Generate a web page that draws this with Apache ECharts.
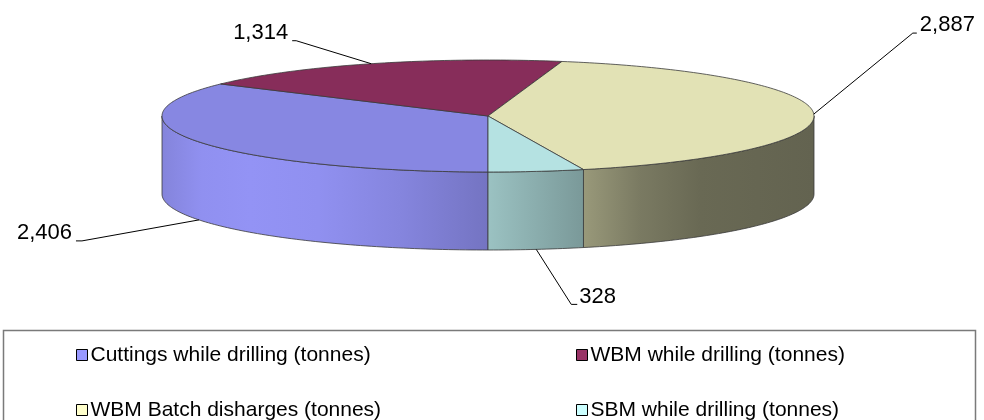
<!DOCTYPE html>
<html>
<head>
<meta charset="utf-8">
<script src="https://cdn.jsdelivr.net/npm/echarts@6/dist/echarts.min.js"></script>
<style>
  html, body { margin: 0; padding: 0; background: #fff; }
  #chart { width: 984px; height: 420px; }
</style>
</head>
<body>
<div id="chart"></div>
<script>
// Discharge quantities by stream (tonnes)
const categories = [
  'Cuttings while drilling (tonnes)',
  'WBM while drilling (tonnes)',
  'WBM Batch disharges (tonnes)',
  'SBM while drilling (tonnes)'
];
const tonnes = [2406, 1314, 2887, 328];
const baseColors = ['#9999FF', '#993366', '#FFFFCC', '#CCFFFF'];

const total = tonnes.reduce((a, b) => a + b, 0);
const starts = tonnes.map((_, i) => tonnes.slice(0, i).reduce((a, b) => a + b, 0));

// 3-D look of the pie: vertical squash of the disc, wall height, shading
const TILT = 56 / 326;
const DEPTH = 78;
const TOP_SHADE = 0.885;
// lighting across the wall, from the left rim (0) to the right rim (1)
const SIDE_LIGHT = [
  [0.00, 0.86], [0.06, 0.94], [0.135, 0.96], [0.24, 0.94], [0.365, 0.87],
  [0.50, 0.76], [0.646, 0.60], [0.733, 0.48], [0.825, 0.41], [1.00, 0.39]
];
// label placement around each slice's anchor point
const LABEL_LAYOUT = [
  { text: [-127, 13], align: 'right', line: [[-117, 21], [-123, 21]] },
  { text: [-83, -31], align: 'right', line: [[-75, -23], [-79, -23]] },
  { text: [106, -89], align: 'left',  line: [[99, -81], [103, -81]] },
  { text: [43, 48],   align: 'left',  line: [[35, 55], [41, 55]] }
];
const FONT = '"Liberation Sans", Arial, sans-serif';

function shade(hex, f) {
  const n = parseInt(hex.slice(1), 16);
  const r = Math.min(255, Math.round(((n >> 16) & 255) * f));
  const g = Math.min(255, Math.round(((n >> 8) & 255) * f));
  const b = Math.min(255, Math.round((n & 255) * f));
  return 'rgb(' + r + ',' + g + ',' + b + ')';
}

function makeRender(i) {
  return function (params, api) {
    const s = api.value(1), e = api.value(2);
    const c = api.coord([0, 0]);
    const cx = c[0], cy = c[1];
    const edge = api.coord([1, total * 0.25]);
    const R = Math.abs(edge[0] - cx) || Math.hypot(edge[0] - cx, edge[1] - cy);

    const pt = (v, dz) => {
      const p = api.coord([1, v]);
      return [p[0], cy + (p[1] - cy) * TILT + dz];
    };
    const isFront = (v) => api.coord([1, v])[1] > cy + 1e-6;
    const arc = (a, b, dz) => {
      const n = Math.max(2, Math.ceil((b - a) / total * 360));
      const pts = [];
      for (let j = 0; j <= n; j++) pts.push(pt(a + (b - a) * j / n, dz));
      return pts;
    };

    const color = baseColors[i];
    const border = { stroke: '#3a3a3a', lineWidth: 0.8 };
    const children = [];

    // walls on the visible (front) half of the disc
    const sideFill = {
      type: 'linear', x: cx - R, y: 0, x2: cx + R, y2: 0, global: true,
      colorStops: SIDE_LIGHT.map(([o, f]) => ({ offset: o, color: shade(color, f) }))
    };
    [[0, total * 0.25], [total * 0.75, total]].forEach(([fa, fb]) => {
      const a = Math.max(s, fa), b = Math.min(e, fb);
      if (b - a <= 0) return;
      const pts = arc(a, b, 0).concat(arc(a, b, DEPTH).reverse());
      children.push({
        type: 'polygon', shape: { points: pts }, z2: 1,
        style: Object.assign({ fill: sideFill }, border)
      });
    });

    // top face
    children.push({
      type: 'polygon', shape: { points: [[cx, cy]].concat(arc(s, e, 0)) }, z2: 2,
      style: Object.assign({ fill: shade(color, TOP_SHADE) }, border)
    });

    // value label with leader line
    const mid = (s + e) / 2;
    const anchor = pt(mid, isFront(mid) ? DEPTH : 0);
    const lay = LABEL_LAYOUT[i];
    children.push({
      type: 'polyline', z2: 5,
      shape: { points: [anchor].concat(lay.line.map(d => [anchor[0] + d[0], anchor[1] + d[1]])) },
      style: { stroke: '#000', lineWidth: 1, fill: null }
    });
    children.push({
      type: 'text', z2: 5,
      x: anchor[0] + lay.text[0], y: anchor[1] + lay.text[1],
      style: {
        text: (e - s).toLocaleString('en-US'),
        fontSize: 22, fontFamily: FONT, fill: '#000',
        align: lay.align, verticalAlign: 'middle'
      }
    });

    return { type: 'group', children: children };
  };
}

const legendBase = {
  orient: 'vertical', top: 340, height: 120, width: 420, padding: 0, itemGap: 25,
  itemWidth: 11, itemHeight: 11, icon: 'rect', selectedMode: false,
  itemStyle: { borderColor: '#000', borderWidth: 1 },
  textStyle: { fontSize: 21, fontFamily: FONT, color: '#000', lineHeight: 30, padding: [0, 0, 0, -2] }
};

const chart = echarts.init(document.getElementById('chart'), null, { renderer: 'canvas' });
chart.setOption({
  animation: false,
  backgroundColor: '#fff',
  polar: { center: [488, 116], radius: 326 },
  angleAxis: {
    type: 'value', min: 0, max: total, startAngle: -90, clockwise: true, show: false
  },
  radiusAxis: { type: 'value', min: 0, max: 1, show: false },
  legend: [
    Object.assign({}, legendBase, { left: 76, data: [categories[0], categories[2]] }),
    Object.assign({}, legendBase, { left: 576, data: [categories[1], categories[3]] })
  ],
  graphic: [{
    type: 'rect', silent: true,
    shape: { x: 3.5, y: 330.5, width: 972, height: 120 },
    style: { fill: 'none', stroke: '#7a7a7a', lineWidth: 1.5 }
  }],
  series: tonnes.map((v, i) => ({
    type: 'custom',
    name: categories[i],
    coordinateSystem: 'polar',
    itemStyle: { color: baseColors[i] },
    data: [[1, starts[i], starts[i] + v]],
    renderItem: makeRender(i)
  }))
});
</script>
</body>
</html>
